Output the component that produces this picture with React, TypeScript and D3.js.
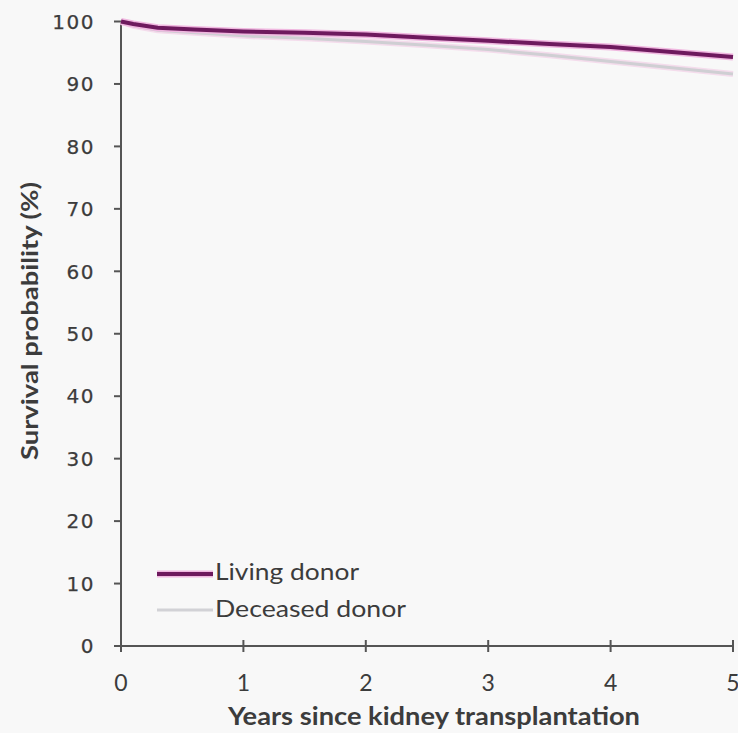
import * as d3 from 'd3'

// survival curves (years, %)
const years = [0, 0.1, 0.3, 0.6, 1, 1.5, 2, 2.5, 3, 3.5, 4, 4.5, 5]
const livingDonor = [100, 99.6, 99.0, 98.7, 98.4, 98.2, 97.9, 97.4, 96.9, 96.4, 95.9, 95.1, 94.3]
const deceasedDonor = [100, 99.3, 98.6, 98.2, 97.7, 97.3, 96.8, 96.2, 95.5, 94.6, 93.6, 92.6, 91.6]
const yTicks = [0, 10, 20, 30, 40, 50, 60, 70, 80, 90, 100]
const xTicks = [0, 1, 2, 3, 4, 5]
const seriesNames = ['Living donor', 'Deceased donor']

export default function App() {
  const width = 738,
    height = 733
  const left = 121,
    right = 733,
    top = 21.5,
    bottom = 646

  const x = d3.scaleLinear().domain([0, 5]).range([left, right])
  const y = d3.scaleLinear().domain([0, 100]).range([bottom, top])

  const line = d3
    .line<number>()
    .x((_, i) => x(years[i]))
    .y((d) => y(d))

  const axisColor = '#555'
  const textColor = '#3c3c3c'

  return (
    <svg
      width={width}
      height={height}
      style={{ position: 'absolute', left: 0, top: 0, background: '#f8f8f8' }}
    >
      <rect width={width} height={height} fill="#f8f8f8" />

      {/* y axis */}
      <line x1={left} x2={left} y1={top} y2={bottom} stroke={axisColor} strokeWidth={2} />
      {yTicks.map((t) => (
        <g key={t}>
          <line x1={left - 7} x2={left} y1={y(t)} y2={y(t)} stroke={axisColor} strokeWidth={2} />
          <text
            x={left - 26}
            y={y(t)}
            dy="0.36em"
            textAnchor="end"
            fontFamily="DejaVu Sans"
            fontSize={20}
            letterSpacing={1.5}
            stroke={textColor}
            strokeWidth={0.25}
            fill={textColor}
          >
            {t}
          </text>
        </g>
      ))}

      {/* x axis */}
      <line x1={left} x2={right} y1={bottom} y2={bottom} stroke={axisColor} strokeWidth={2} />
      {xTicks.map((t) => (
        <g key={t}>
          <line x1={x(t)} x2={x(t)} y1={bottom - 6} y2={bottom + 6} stroke={axisColor} strokeWidth={2} />
          <text
            x={x(t)}
            y={691}
            textAnchor="middle"
            fontFamily="Lato"
            fontSize={23}
            fill={textColor}
          >
            {t}
          </text>
        </g>
      ))}

      {/* curves */}
      <path d={line(deceasedDonor) ?? ''} fill="none" stroke="#f4dcec" strokeWidth={6} />
      <path d={line(deceasedDonor) ?? ''} fill="none" stroke="#cfcfd3" strokeWidth={3} />
      <path d={line(livingDonor) ?? ''} fill="none" stroke="#f0b8e0" strokeWidth={7} />
      <path d={line(livingDonor) ?? ''} fill="none" stroke="#6e1a5e" strokeWidth={4} />

      {/* legend */}
      <line x1={157} x2={213} y1={574} y2={574} stroke="#f0b8e0" strokeWidth={7} />
      <line x1={157} x2={213} y1={574} y2={574} stroke="#6e1a5e" strokeWidth={4} />
      <line x1={157} x2={213} y1={610} y2={610} stroke="#d2d2d6" strokeWidth={3} />
      {seriesNames.map((s, i) => (
        <text
          key={s}
          x={215}
          y={580 + i * 37}
          textLength={i === 0 ? 144 : 191}
          lengthAdjust="spacingAndGlyphs"
          fontFamily="Lato"
          fontSize={24}
          fill={textColor}
        >
          {s}
        </text>
      ))}

      {/* axis titles */}
      <text
        x={228}
        y={725}
        textLength={412}
        lengthAdjust="spacingAndGlyphs"
        fontFamily="Lato"
        fontWeight="bold"
        fontSize={24}
        fill={textColor}
      >
        Years since kidney transplantation
      </text>
      <text
        transform="translate(38,460) rotate(-90)"
        textLength={278}
        lengthAdjust="spacingAndGlyphs"
        fontFamily="Lato"
        fontWeight="bold"
        fontSize={22}
        fill={textColor}
      >
        Survival probability (%)
      </text>
    </svg>
  )
}
